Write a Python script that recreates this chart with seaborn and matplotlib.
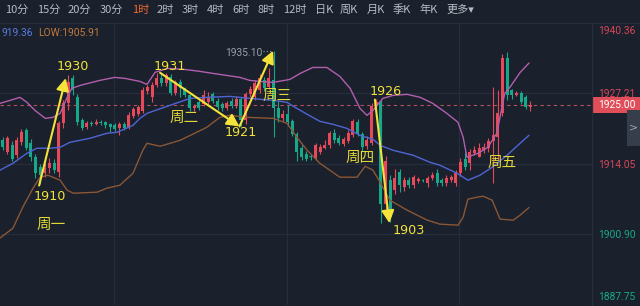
import numpy as np
import pandas as pd
import matplotlib
matplotlib.use("Agg")
import matplotlib.pyplot as plt
from matplotlib.patches import Rectangle
from matplotlib.lines import Line2D
import seaborn as sns

# ---------------- data ----------------
opens = [1918.4, 1916.2, 1917.5, 1915.6, 1918.1, 1920.3, 1917.9, 1915.3, 1913.4, 1912.3,
         1913.2, 1914.2, 1912.5, 1921.6, 1925.3, 1930.1, 1926.4, 1922.2, 1920.9, 1921.7,
         1921.5, 1921.9, 1921.8, 1921.4, 1921.3, 1920.7, 1921.4, 1920.9, 1923.0, 1923.3,
         1923.8, 1927.6, 1926.4, 1928.7, 1930.1, 1929.0, 1930.2, 1927.3, 1929.2, 1928.1,
         1926.8, 1924.4, 1925.6, 1925.2, 1925.6, 1927.0, 1925.8, 1925.2, 1924.4, 1925.8,
         1924.9, 1926.2, 1922.2, 1927.0, 1926.4, 1927.7, 1929.7, 1928.3, 1929.6, 1924.5,
         1922.5, 1923.4, 1922.0, 1919.6, 1917.0, 1915.9, 1915.4, 1915.2, 1916.2, 1917.0,
         1917.5, 1919.7, 1918.9, 1917.8, 1918.3, 1919.5, 1921.8, 1919.6, 1917.4, 1918.0,
         1924.8, 1925.6, 1906.5, 1911.0, 1909.2, 1912.5, 1909.7, 1911.0, 1910.1, 1910.9,
         1911.0, 1910.4, 1911.4, 1912.3, 1911.0, 1910.4, 1911.0, 1910.4, 1912.3, 1915.0,
         1914.2, 1916.0, 1915.4, 1916.6, 1916.9, 1918.2, 1919.0, 1923.5, 1933.7, 1927.7,
         1926.9, 1927.2, 1926.4, 1924.6]
highs = [1919.0, 1919.2, 1918.2, 1919.0, 1920.6, 1920.7, 1918.6, 1915.8, 1914.0, 1914.2,
         1915.2, 1915.0, 1922.0, 1926.0, 1930.6, 1930.5, 1927.0, 1922.6, 1922.0, 1922.1,
         1922.3, 1922.2, 1922.0, 1921.7, 1921.6, 1921.9, 1921.8, 1923.6, 1924.7, 1925.0,
         1928.3, 1928.8, 1929.2, 1931.0, 1931.0, 1930.9, 1930.8, 1929.6, 1929.8, 1928.4,
         1927.1, 1925.2, 1926.0, 1927.7, 1927.5, 1927.4, 1926.3, 1925.6, 1925.8, 1926.3,
         1926.6, 1926.5, 1927.5, 1928.5, 1929.6, 1930.8, 1930.2, 1931.8, 1935.1, 1925.8,
         1924.0, 1925.0, 1922.4, 1920.0, 1917.6, 1916.4, 1915.8, 1918.0, 1917.8, 1918.4,
         1920.2, 1920.6, 1919.4, 1919.0, 1920.3, 1922.4, 1922.3, 1920.0, 1919.3, 1925.3,
         1926.2, 1926.0, 1915.5, 1912.0, 1913.0, 1913.0, 1911.6, 1911.6, 1912.0, 1911.6,
         1911.3, 1911.8, 1912.5, 1913.0, 1911.4, 1912.0, 1912.0, 1912.8, 1915.2, 1916.3,
         1916.8, 1917.4, 1918.0, 1918.0, 1918.8, 1928.3, 1927.7, 1934.5, 1934.8, 1928.0,
         1927.6, 1927.6, 1926.8, 1925.8]
lows = [1916.6, 1915.8, 1914.5, 1915.2, 1917.6, 1916.6, 1914.6, 1911.4, 1910.3, 1911.5,
        1912.4, 1912.4, 1911.6, 1920.8, 1924.0, 1926.8, 1921.2, 1920.3, 1920.5, 1921.1,
        1921.2, 1921.3, 1920.8, 1919.9, 1920.2, 1919.4, 1920.3, 1920.5, 1922.6, 1923.0,
        1923.5, 1927.1, 1925.6, 1928.3, 1928.5, 1928.6, 1926.8, 1926.9, 1926.5, 1926.4,
        1923.8, 1923.9, 1924.1, 1924.9, 1925.2, 1925.4, 1924.0, 1923.8, 1924.1, 1924.4,
        1924.5, 1921.0, 1921.5, 1926.5, 1926.0, 1927.3, 1927.6, 1927.9, 1919.0, 1921.8,
        1922.0, 1921.0, 1919.2, 1914.5, 1914.8, 1914.5, 1914.7, 1914.8, 1915.8, 1916.8,
        1917.0, 1918.0, 1917.5, 1917.4, 1917.9, 1919.0, 1919.2, 1916.5, 1916.8, 1917.6,
        1923.0, 1903.0, 1905.5, 1903.2, 1908.5, 1908.8, 1909.0, 1909.5, 1909.6, 1910.5,
        1910.6, 1909.7, 1911.0, 1910.0, 1910.0, 1910.0, 1910.6, 1910.0, 1911.8, 1912.8,
        1912.9, 1915.6, 1915.3, 1916.0, 1916.3, 1910.4, 1914.7, 1923.0, 1926.0, 1926.2,
        1926.6, 1925.2, 1924.3, 1923.8]
closes = [1917.1, 1918.8, 1914.9, 1918.4, 1919.9, 1917.0, 1915.3, 1912.3, 1912.0, 1913.2,
          1914.2, 1912.9, 1921.6, 1925.3, 1929.2, 1927.7, 1921.8, 1920.7, 1921.6, 1921.5,
          1921.9, 1921.7, 1921.3, 1920.9, 1920.6, 1921.4, 1920.8, 1923.1, 1924.3, 1924.6,
          1927.7, 1928.3, 1928.7, 1930.1, 1929.0, 1930.5, 1927.3, 1929.2, 1928.1, 1926.8,
          1924.4, 1924.8, 1924.5, 1926.9, 1926.4, 1925.8, 1924.6, 1924.4, 1925.4, 1924.9,
          1926.2, 1922.2, 1927.0, 1928.0, 1929.0, 1930.0, 1928.1, 1930.0, 1924.5, 1922.5,
          1923.4, 1921.8, 1919.6, 1916.2, 1915.4, 1915.0, 1915.3, 1917.5, 1917.2, 1917.6,
          1919.7, 1918.4, 1918.0, 1918.6, 1919.8, 1922.0, 1919.6, 1917.2, 1918.4, 1924.8,
          1925.6, 1906.5, 1914.5, 1904.2, 1911.4, 1910.1, 1911.0, 1910.1, 1911.6, 1911.2,
          1910.9, 1911.4, 1911.9, 1910.4, 1910.4, 1911.4, 1911.6, 1912.3, 1914.3, 1913.4,
          1916.2, 1916.6, 1917.0, 1917.2, 1918.2, 1919.5, 1923.5, 1933.8, 1926.8, 1926.8,
          1927.2, 1925.5, 1924.6, 1925.0]

upper_idx = [-0.6, 1.6, 3.7, 5.2, 6.9, 9.1, 10.8, 12.3, 13.8, 14.8, 16.6, 20.8, 24.0, 26.2,
             29.4, 30.9, 32.6, 35.2, 39.0, 42.3, 45.0, 50.8, 52.9, 55.1, 57.9, 61.5, 63.7,
             66.4, 69.4, 72.2, 74.4, 76.5, 78.0, 79.3, 81.4, 83.6, 86.6, 89.4, 92.1, 95.1,
             97.5, 98.6, 99.4, 101.8, 103.9, 105.8, 106.9, 107.5, 108.6, 110.8, 112.7]
upper_val = [1925.30, 1925.86, 1926.42, 1925.49, 1924.00, 1922.51, 1922.70, 1923.44, 1926.42,
             1928.09, 1928.65, 1929.58, 1930.14, 1929.95, 1929.39, 1928.83, 1931.06, 1931.81,
             1931.62, 1931.25, 1930.88, 1930.14, 1929.58, 1929.39, 1929.21, 1929.76, 1930.88,
             1931.99, 1931.99, 1930.32, 1928.09, 1924.37, 1923.07, 1924.00, 1926.23, 1926.79,
             1926.98, 1926.42, 1925.30, 1923.44, 1921.77, 1918.98, 1915.26, 1916.01, 1917.12,
             1919.73, 1924.56, 1927.16, 1928.28, 1931.06, 1932.81]
mid_idx = [-0.6, 2.2, 5.2, 7.3, 10.1, 12.3, 14.4, 18.7, 22.3, 24.5, 27.9, 29.4, 30.9, 35.8,
           40.1, 43.7, 48.7, 52.9, 57.9, 60.9, 62.6, 65.2, 67.9, 70.7, 73.7, 76.5, 79.3,
           80.8, 83.6, 87.9, 91.5, 93.6, 97.3, 99.6, 102.2, 104.8, 108.0, 110.8, 112.7]
mid_val = [1912.85, 1914.15, 1916.01, 1916.94, 1916.94, 1917.12, 1918.05, 1918.80, 1919.73,
           1919.91, 1921.21, 1922.51, 1923.44, 1924.93, 1926.23, 1926.42, 1926.60, 1926.23,
           1925.86, 1925.49, 1924.56, 1923.26, 1921.96, 1921.40, 1920.65, 1919.35, 1918.61,
           1917.49, 1916.56, 1915.64, 1914.33, 1913.78, 1912.29, 1910.99, 1911.92, 1913.40,
           1915.64, 1917.87, 1919.36]
lower_idx = [-0.6, 2.2, 4.3, 6.5, 8.0, 9.7, 12.3, 13.8, 15.1, 20.2, 22.3, 25.1, 27.9, 30.0,
             30.9, 33.7, 38.0, 43.7, 46.5, 48.7, 52.3, 57.9, 60.9, 63.0, 65.2, 67.9, 72.2,
             75.9, 77.6, 79.3, 80.8, 82.9, 86.6, 90.9, 93.6, 97.5, 98.6, 99.6, 101.6, 102.9,
             104.8, 106.5, 109.3, 110.8, 112.7]
lower_val = [1900.21, 1902.06, 1905.97, 1909.50, 1911.55, 1911.92, 1910.99, 1909.13, 1908.57,
             1908.76, 1909.50, 1910.06, 1912.29, 1916.56, 1917.87, 1917.31, 1918.42, 1920.84,
             1922.70, 1923.07, 1922.70, 1922.51, 1921.58, 1918.98, 1916.56, 1914.15, 1911.55,
             1911.55, 1913.59, 1912.85, 1910.62, 1907.27, 1905.41, 1903.55, 1902.81, 1902.62,
             1904.11, 1907.46, 1907.83, 1908.01, 1907.27, 1903.74, 1903.55, 1904.48, 1905.91]

price_ticks = [1940.36, 1927.21, 1914.05, 1900.90, 1887.75]
last_price = 1925.00
day_open_ref = 1911.0
max_price = 1935.10
header_mid = "919.36"
header_low = "LOW:1905.91"

swing_idx = [7.8, 13.5, 33.7, 50.7, 57.9, 79.7, 82.8]
swing_price = [1910.0, 1930.0, 1931.0, 1921.0, 1935.10, 1926.0, 1903.0]
arrow_pairs = [(0, 1), (2, 3), (3, 4), (5, 6)]
swing_labels = ["1910", "1930", "1931", "1921", "1926", "1903"]
day_labels = ["周一", "周二", "周三", "周四", "周五"]
tabs = ["10分", "15分", "20分", "30分", "1时", "2时", "3时", "4时", "6时", "8时",
        "12时", "日K", "周K", "月K", "季K", "年K", "更多▾"]
active_tab = "1时"

# ---------------- style ----------------
BG = "#1a202c"
GRID = "#262e3c"
UP = "#e5495a"
DOWN = "#17a88a"
YEL = "#f3e33a"
W, H = 640, 306

sns.set_theme(style="dark", rc={"axes.facecolor": BG, "figure.facecolor": BG})
plt.rcParams["font.family"] = ["DejaVu Sans", "Noto Sans CJK SC"]

fig = plt.figure(figsize=(6.4, 3.06), dpi=100, facecolor=BG)
top_px, bot_px = 22.5, 305.0
ax = fig.add_axes([0, 1 - bot_px / H, 592 / W, (bot_px - top_px) / H])
ax.set_facecolor(BG)
step = 4.67
x0 = 2.7
ax.set_xlim(-x0 / step, (592 - x0) / step)
ax.set_ylim(price_ticks[-1], price_ticks[0])
for s in ax.spines.values():
    s.set_visible(False)
ax.set_xticks([])
ax.set_yticks([])
ax.grid(False)


def fx(px):
    return px / W


def fy(py):
    return 1 - py / H


def ypx(v):
    return top_px + (price_ticks[0] - v) / (price_ticks[0] - price_ticks[-1]) * (bot_px - top_px)


# grid
for v in price_ticks[1:-1]:
    ax.axhline(v, color=GRID, lw=0.9, zorder=0)
for gx in [114, 287, 459]:
    ax.axvline((gx - x0) / step, color=GRID, lw=0.9, zorder=0)

# last price dashed line
ax.axhline(last_price, color="#b8505b", lw=0.8, ls=(0, (3, 3)), zorder=1)

# candles
df = pd.DataFrame({"o": opens, "h": highs, "l": lows, "c": closes})
df["x"] = np.arange(len(df))
colors = np.where(df["c"] >= df["o"], UP, DOWN)
ax.vlines(df["x"], df["l"], df["h"], colors=colors, lw=0.8, zorder=2)
body_h = np.maximum((df["c"] - df["o"]).abs(), 0.18)
ax.bar(df["x"], body_h, bottom=np.minimum(df["o"], df["c"]), width=0.64,
       color=colors, linewidth=0, zorder=2)

# bollinger bands
sns.lineplot(x=upper_idx, y=upper_val, ax=ax, color="#b25fae", lw=1.0, sort=False, zorder=3)
sns.lineplot(x=mid_idx, y=mid_val, ax=ax, color="#4e66d4", lw=1.0, sort=False, zorder=3)
sns.lineplot(x=lower_idx, y=lower_val, ax=ax, color="#8a5736", lw=1.0, sort=False, zorder=3)

# arrows
for a, b in arrow_pairs:
    ax.annotate("", xy=(swing_idx[b], swing_price[b]), xytext=(swing_idx[a], swing_price[a]),
                arrowprops=dict(arrowstyle="-|>,head_length=0.75,head_width=0.38",
                                color=YEL, lw=1.5, shrinkA=0, shrinkB=0, mutation_scale=10),
                zorder=5)

# max marker
ax.plot([(263 - x0) / step, (271 - x0) / step], [max_price - 0.1] * 2, color="#9aa1ac",
        lw=0.8, ls=(0, (1, 2)), zorder=4)
fig.text(fx(262), fy(53), "1935.10", color="#9aa1ac", fontsize=7.4, family="Roboto",
         ha="right", va="center")

# labels
num_pos = [(50, 196), (73, 66), (170, 67), (241, 132), (386, 91), (409, 231)]
for lab, (px, py) in zip(swing_labels, num_pos):
    fig.text(fx(px), fy(py), lab, color=YEL, fontsize=9.2, family="DejaVu Sans",
             ha="center", va="center")
day_pos = [(51, 225), (184, 118), (277, 96), (360, 158), (502, 163)]
for lab, (px, py) in zip(day_labels, day_pos):
    fig.text(fx(px), fy(py), lab, color="#e2d836", fontsize=10.5,
             family=["Noto Sans CJK SC", "DejaVu Sans"], ha="center", va="center")

# frame lines
fig.add_artist(Line2D([0, 1], [fy(top_px)] * 2, color=GRID, lw=0.9))
fig.add_artist(Line2D([fx(591.5)] * 2, [0, fy(top_px)], color=GRID, lw=0.9))

# right axis labels
for v in price_ticks:
    if v == price_ticks[0]:
        py = 31
    elif v == price_ticks[-1]:
        py = 297
    else:
        py = ypx(v) + 1
    col = "#d9475a" if v > day_open_ref else "#17a88a"
    fig.text(fx(598), fy(py), f"{v:.2f}", color=col, fontsize=7.4, family="Roboto",
             ha="left", va="center")

# last price box
fig.add_artist(Rectangle((fx(592), fy(112.5)), 48 / W, 15 / H, transform=fig.transFigure,
                         color="#e04e5a", lw=0))
fig.text(fx(598), fy(ypx(last_price)), f"{last_price:.2f}", color="white", fontsize=7.4,
         family="Roboto", ha="left", va="center")
# side tab
fig.add_artist(Rectangle((fx(627), fy(146)), 13 / W, 36 / H, transform=fig.transFigure,
                         color="#363d4b", lw=0))
fig.text(fx(634), fy(127), ">", color="#a0a6b0", fontsize=8, family="DejaVu Sans",
         ha="center", va="center")

# header
fig.text(fx(2), fy(33), header_mid, color="#5a7de2", fontsize=7.4, family="Roboto",
         ha="left", va="center")
fig.text(fx(38), fy(33), header_low, color="#c27a3c", fontsize=7.4, family="Roboto",
         ha="left", va="center")

# tabs
tab_x = [5, 37, 68, 100, 132, 157, 182, 207, 232, 258, 283, 315, 340, 367, 393, 419, 446]
for t, px in zip(tabs, tab_x):
    fig.text(fx(px), fy(10), t, color="#f26b30" if t == active_tab else "#b7bbc4",
             fontsize=8, family=["Noto Sans CJK SC", "DejaVu Sans"], ha="left", va="center")

fig.savefig("out.png", dpi=100, facecolor=BG)
